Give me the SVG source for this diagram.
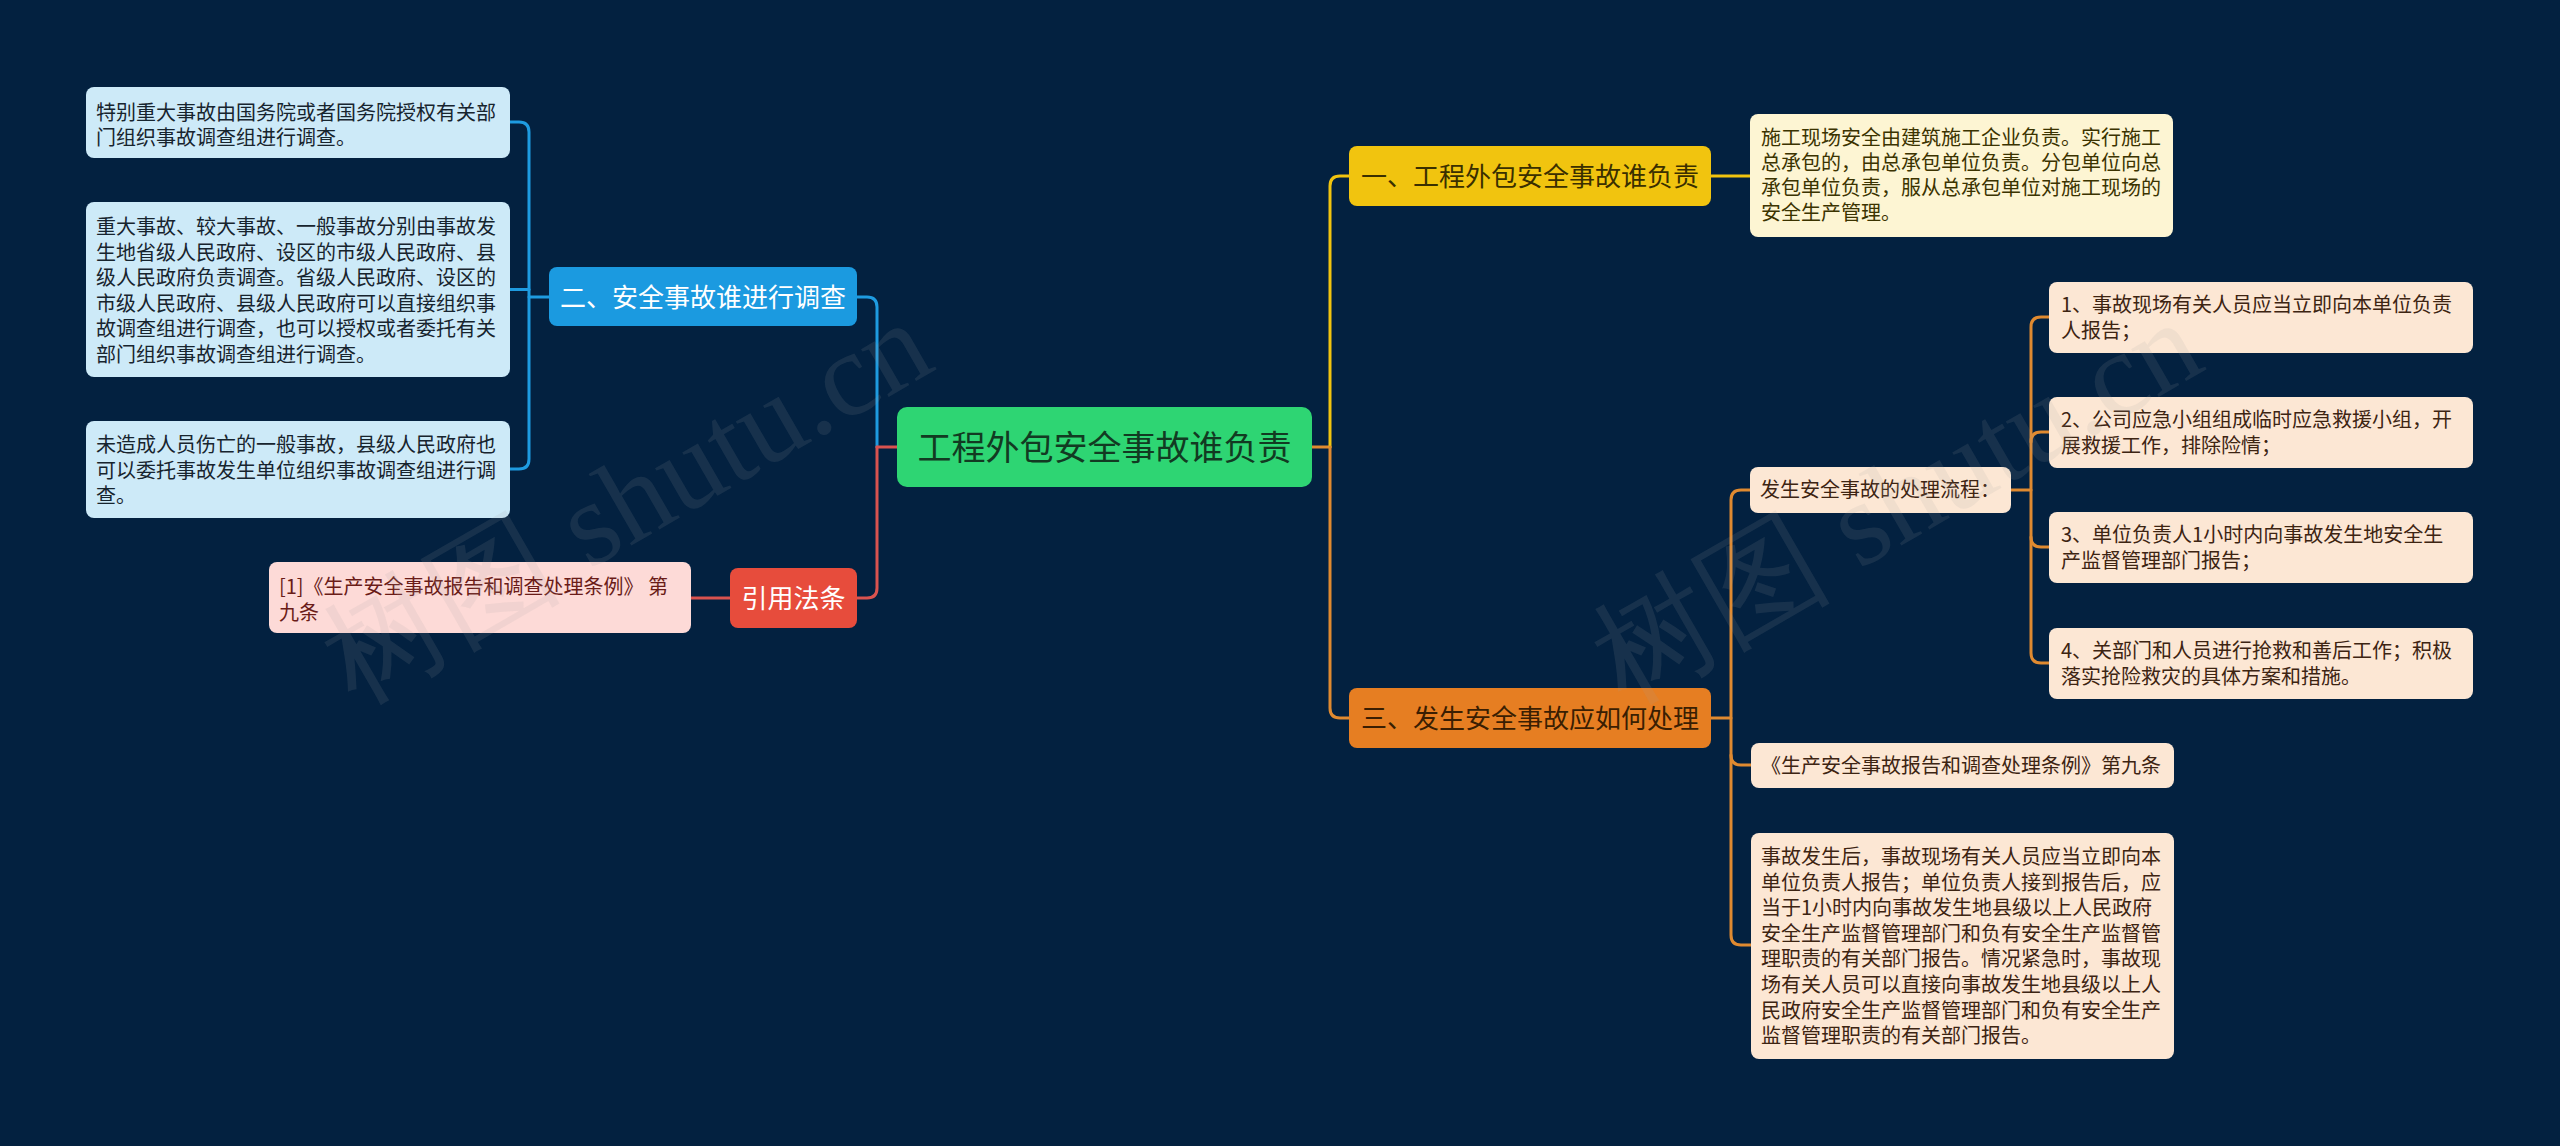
<svg xmlns="http://www.w3.org/2000/svg" width="2560" height="1146" viewBox="0 0 2560 1146">
<style>
text{font-family:"Noto Sans CJK SC","Noto Sans",sans-serif;}
.leaf{font-size:20px;}
.main{font-size:26px;}
.c{fill:none;stroke-width:3;stroke-linecap:round;stroke-linejoin:round;}
.blue{stroke:#1e9be0;}
.red{stroke:#d9534f;}
.yel{stroke:#f1c40f;}
.org{stroke:#e08a30;}
.wm{font-family:"Liberation Serif","DejaVu Serif",serif;font-size:120px;fill:#a0a0a0;fill-opacity:0.13;}
</style>
<rect x="0" y="0" width="2560" height="1146" fill="#032140"/>

<g id="connectors">
  <path class="c blue" d="M549,297 H529"/>
  <path class="c blue" d="M510,122 H519 Q529,122 529,132 V459 Q529,469 519,469 H510"/>
  <path class="c blue" d="M510,289.5 H529"/>
  <path class="c blue" d="M857,297 H867 Q877,297 877,307 V447"/>
  <path class="c red" d="M877,447 V588 Q877,598 867,598 H857"/>
  <path class="c red" d="M877,447 H897"/>
  <path class="c red" d="M691,598 H730"/>
  <path class="c org" d="M1312,447 H1330"/>
  <path class="c yel" d="M1330,447 V186 Q1330,176 1340,176 H1349"/>
  <path class="c org" d="M1330,447 V708 Q1330,718 1340,718 H1349"/>
  <path class="c yel" d="M1711,176 H1750"/>
  <path class="c org" d="M1711,718 H1731"/>
  <path class="c org" d="M1750,490 H1741 Q1731,490 1731,500 V935 Q1731,945 1741,945 H1751"/>
  <path class="c org" d="M1731,755 Q1731,765 1741,765 H1751"/>
  <path class="c org" d="M2011,490 H2031"/>
  <path class="c org" d="M2049,317 H2041 Q2031,317 2031,327 V653 Q2031,663 2041,663 H2049"/>
  <path class="c org" d="M2031,442 Q2031,432 2041,432 H2049"/>
  <path class="c org" d="M2031,537 Q2031,547 2041,547 H2049"/>
</g>

<g id="center">
  <rect x="897" y="407" width="415" height="80" rx="10" fill="#2ed573"/>
  <text x="1104.5" y="460" text-anchor="middle" font-size="34" fill="#123a22">工程外包安全事故谁负责</text>
</g>

<g id="n2">
  <rect x="549" y="267" width="308" height="59" rx="8" fill="#1b9ae0"/>
  <text class="main" x="703" y="307" text-anchor="middle" fill="#ffffff">二、安全事故谁进行调查</text>
</g>
<g id="n2a">
  <rect x="86" y="87" width="424" height="71" rx="8" fill="#cdeaf8"/>
  <text class="leaf" fill="#17242e"><tspan x="96" y="119.5">特别重大事故由国务院或者国务院授权有关部</tspan><tspan x="96" y="145">门组织事故调查组进行调查。</tspan></text>
</g>
<g id="n2b">
  <rect x="86" y="202" width="424" height="175" rx="8" fill="#cdeaf8"/>
  <text class="leaf" fill="#17242e"><tspan x="96" y="234">重大事故、较大事故、一般事故分别由事故发</tspan><tspan x="96" y="259.5">生地省级人民政府、设区的市级人民政府、县</tspan><tspan x="96" y="285">级人民政府负责调查。省级人民政府、设区的</tspan><tspan x="96" y="310.5">市级人民政府、县级人民政府可以直接组织事</tspan><tspan x="96" y="336">故调查组进行调查，也可以授权或者委托有关</tspan><tspan x="96" y="361.5">部门组织事故调查组进行调查。</tspan></text>
</g>
<g id="n2c">
  <rect x="86" y="421" width="424" height="97" rx="8" fill="#cdeaf8"/>
  <text class="leaf" fill="#17242e"><tspan x="96" y="452">未造成人员伤亡的一般事故，县级人民政府也</tspan><tspan x="96" y="477.5">可以委托事故发生单位组织事故调查组进行调</tspan><tspan x="96" y="503">查。</tspan></text>
</g>

<g id="nref">
  <rect x="730" y="568" width="127" height="60" rx="8" fill="#e74c3c"/>
  <text class="main" x="793.5" y="608" text-anchor="middle" fill="#ffffff">引用法条</text>
</g>
<g id="nrefa">
  <rect x="269" y="562" width="422" height="71" rx="8" fill="#fddad7"/>
  <text class="leaf" fill="#6a1c18"><tspan x="279" y="594">[1]《生产安全事故报告和调查处理条例》 第</tspan><tspan x="279" y="620">九条</tspan></text>
</g>

<g id="n1">
  <rect x="1349" y="146" width="362" height="60" rx="8" fill="#f1c40f"/>
  <text class="main" x="1530" y="186" text-anchor="middle" fill="#3a2f00">一、工程外包安全事故谁负责</text>
</g>
<g id="n1a">
  <rect x="1750" y="114" width="423" height="123" rx="8" fill="#fdf5d3"/>
  <text class="leaf" fill="#3b3300"><tspan x="1761" y="145">施工现场安全由建筑施工企业负责。实行施工</tspan><tspan x="1761" y="170">总承包的，由总承包单位负责。分包单位向总</tspan><tspan x="1761" y="195">承包单位负责，服从总承包单位对施工现场的</tspan><tspan x="1761" y="220">安全生产管理。</tspan></text>
</g>

<g id="n3">
  <rect x="1349" y="688" width="362" height="60" rx="8" fill="#e67e22"/>
  <text class="main" x="1530" y="728" text-anchor="middle" fill="#3a1e02">三、发生安全事故应如何处理</text>
</g>
<g id="n3a">
  <rect x="1750" y="467" width="261" height="46" rx="8" fill="#fce7d4"/>
  <text class="leaf" x="1760" y="497" fill="#3d2412">发生安全事故的处理流程：</text>
</g>
<g id="n3a1">
  <rect x="2049" y="282" width="424" height="71" rx="8" fill="#fce7d4"/>
  <text class="leaf" fill="#3d2412"><tspan x="2061" y="312">1、事故现场有关人员应当立即向本单位负责</tspan><tspan x="2061" y="337.5">人报告；</tspan></text>
</g>
<g id="n3a2">
  <rect x="2049" y="397" width="424" height="71" rx="8" fill="#fce7d4"/>
  <text class="leaf" fill="#3d2412"><tspan x="2061" y="427">2、公司应急小组组成临时应急救援小组，开</tspan><tspan x="2061" y="452.5">展救援工作，排除险情；</tspan></text>
</g>
<g id="n3a3">
  <rect x="2049" y="512" width="424" height="71" rx="8" fill="#fce7d4"/>
  <text class="leaf" fill="#3d2412"><tspan x="2061" y="542">3、单位负责人1小时内向事故发生地安全生</tspan><tspan x="2061" y="567.5">产监督管理部门报告；</tspan></text>
</g>
<g id="n3a4">
  <rect x="2049" y="628" width="424" height="71" rx="8" fill="#fce7d4"/>
  <text class="leaf" fill="#3d2412"><tspan x="2061" y="658">4、关部门和人员进行抢救和善后工作；积极</tspan><tspan x="2061" y="683.5">落实抢险救灾的具体方案和措施。</tspan></text>
</g>
<g id="n3b">
  <rect x="1751" y="743" width="423" height="45" rx="8" fill="#fce7d4"/>
  <text class="leaf" x="1761" y="773" fill="#3d2412">《生产安全事故报告和调查处理条例》第九条</text>
</g>
<g id="n3c">
  <rect x="1751" y="833" width="423" height="226" rx="8" fill="#fce7d4"/>
  <text class="leaf" fill="#3d2412"><tspan x="1761" y="864">事故发生后，事故现场有关人员应当立即向本</tspan><tspan x="1761" y="889.6">单位负责人报告；单位负责人接到报告后，应</tspan><tspan x="1761" y="915.2">当于1小时内向事故发生地县级以上人民政府</tspan><tspan x="1761" y="940.8">安全生产监督管理部门和负有安全生产监督管</tspan><tspan x="1761" y="966.4">理职责的有关部门报告。情况紧急时，事故现</tspan><tspan x="1761" y="992">场有关人员可以直接向事故发生地县级以上人</tspan><tspan x="1761" y="1017.6">民政府安全生产监督管理部门和负有安全生产</tspan><tspan x="1761" y="1043.2">监督管理职责的有关部门报告。</tspan></text>
</g>

<g id="watermarks">
  <text class="wm" x="355" y="705" transform="rotate(-30 355 705)">树图 shutu.cn</text>
  <text class="wm" x="1625" y="705" transform="rotate(-30 1625 705)">树图 shutu.cn</text>
</g>
</svg>
